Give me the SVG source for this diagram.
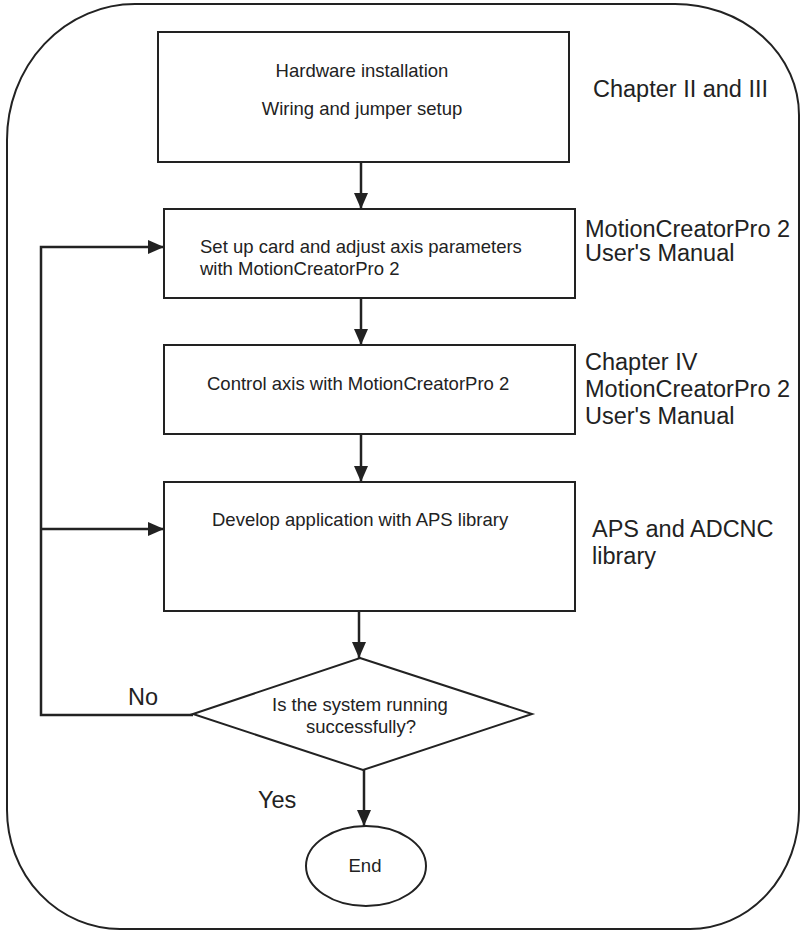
<svg xmlns="http://www.w3.org/2000/svg" width="801" height="932" viewBox="0 0 801 932">
<style>
.frame{fill:none;stroke:#222;stroke-width:2}
.box{fill:#fff;stroke:#222;stroke-width:2}
.conn{fill:none;stroke:#222;stroke-width:2.5}
text{font-family:"Liberation Sans",Arial,sans-serif;fill:#222}
.t{font-size:18.5px}
.lbl{font-size:23.5px}
</style>
<defs>
<marker id="ah" markerUnits="userSpaceOnUse" markerWidth="16" markerHeight="14" refX="16" refY="7" orient="auto">
<path d="M0,0 L16,7 L0,14 Z" fill="#222"/>
</marker>
</defs>
<path class="frame" d="M7,140 A128,136 0 0 1 135,4 L675,4 A124,111 0 0 1 799,115 L799,810 A109,119 0 0 1 690,929 L120,929 A113,119 0 0 1 7,810 Z"/>
<g id="connectors">
<line class="conn" x1="361" y1="162" x2="361" y2="209" marker-end="url(#ah)"/>
<line class="conn" x1="361" y1="298" x2="361" y2="345" marker-end="url(#ah)"/>
<line class="conn" x1="361" y1="434" x2="361" y2="482" marker-end="url(#ah)"/>
<line class="conn" x1="359" y1="611" x2="359" y2="658" marker-end="url(#ah)"/>
<line class="conn" x1="364" y1="770" x2="364" y2="826" marker-end="url(#ah)"/>
<polyline class="conn" points="193,715 41,715 41,247 164,247" marker-end="url(#ah)"/>
<line class="conn" x1="41" y1="529" x2="164" y2="529" marker-end="url(#ah)"/>
</g>
<g id="n1">
<rect class="box" x="158" y="32" width="411" height="130"/>
<text class="t" x="362" y="77" text-anchor="middle">Hardware installation</text>
<text class="t" x="362" y="115" text-anchor="middle">Wiring and jumper setup</text>
</g>
<g id="n2">
<rect class="box" x="164" y="209" width="411" height="89"/>
<text class="t" x="200" y="253">Set up card and adjust axis parameters</text>
<text class="t" x="200" y="275">with MotionCreatorPro 2</text>
</g>
<g id="n3">
<rect class="box" x="164" y="345" width="411" height="89"/>
<text class="t" x="207" y="390">Control axis with MotionCreatorPro 2</text>
</g>
<g id="n4">
<rect class="box" x="164" y="482" width="411" height="129"/>
<text class="t" x="212" y="526">Develop application with APS library</text>
</g>
<g id="n5">
<polygon class="box" points="360,658 532,714 363,770 193,714"/>
<text class="t" x="360" y="711" text-anchor="middle">Is the system running</text>
<text class="t" x="361" y="733" text-anchor="middle">successfully?</text>
</g>
<g id="n6">
<ellipse class="box" cx="366" cy="866" rx="60" ry="40"/>
<text class="t" x="365" y="872" text-anchor="middle">End</text>
</g>
<g id="labels">
<text class="lbl" x="593" y="97">Chapter II and III</text>
<text class="lbl" x="585" y="237">MotionCreatorPro 2</text>
<text class="lbl" x="585" y="261">User's Manual</text>
<text class="lbl" x="585" y="370">Chapter IV</text>
<text class="lbl" x="585" y="397">MotionCreatorPro 2</text>
<text class="lbl" x="585" y="424">User's Manual</text>
<text class="lbl" x="592" y="537">APS and ADCNC</text>
<text class="lbl" x="592" y="564">library</text>
<text class="lbl" x="128" y="705">No</text>
<text class="lbl" x="258" y="808">Yes</text>
</g>
</svg>
